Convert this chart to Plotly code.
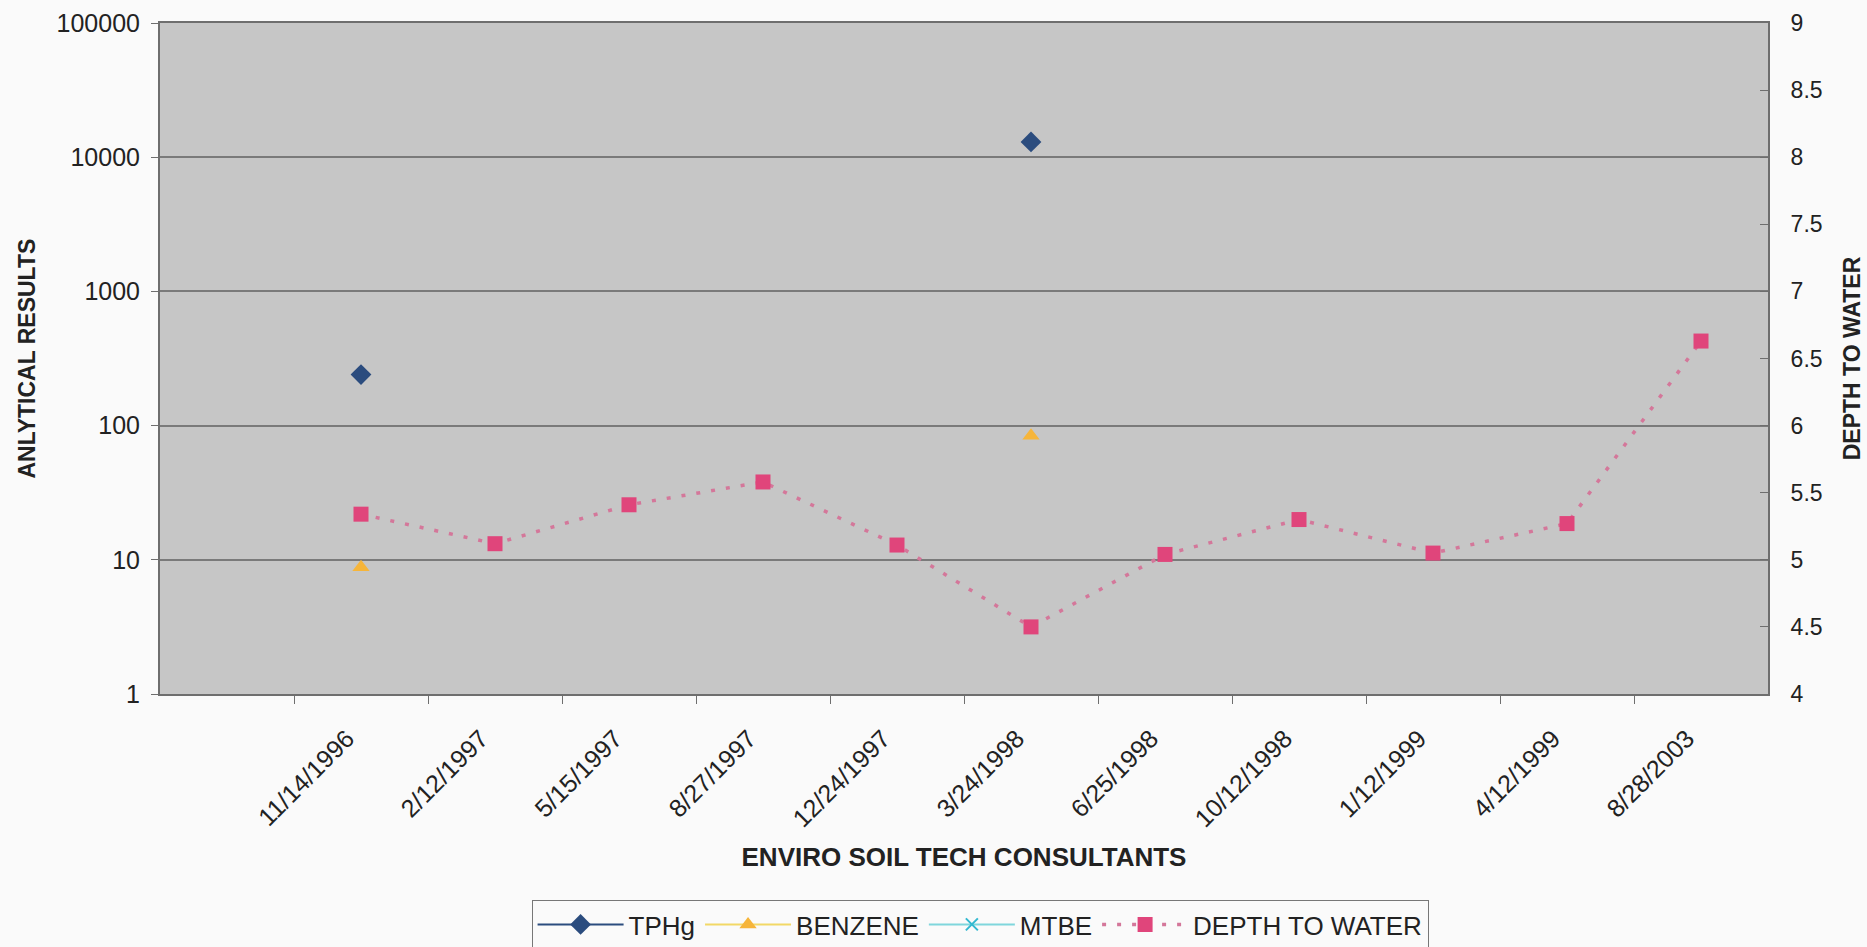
import plotly.graph_objects as go

# Sampling dates (one category each); the axis keeps an empty slot before the first date
dates = ["11/14/1996", "2/12/1997", "5/15/1997", "8/27/1997", "12/24/1997", "3/24/1998",
         "6/25/1998", "10/12/1998", "1/12/1999", "4/12/1999", "8/28/2003"]

# Analytical results (log scale, left axis); None = not detected / not sampled
tphg = [240, None, None, None, None, 13000, None, None, None, None, None]
benzene = [8.8, None, None, None, None, 84, None, None, None, None, None]
mtbe = [None, None, None, None, None, None, None, None, None, None, None]

# Depth to water (right axis)
depth_to_water = [5.34, 5.12, 5.41, 5.58, 5.11, 4.50, 5.04, 5.30, 5.05, 5.27, 6.63]

# Axis tick labels
left_tickvals = [1, 10, 100, 1000, 10000, 100000]
left_ticktext = ["1", "10", "100", "1000", "10000", "100000"]
right_tickvals = [4, 4.5, 5, 5.5, 6, 6.5, 7, 7.5, 8, 8.5, 9]
right_ticktext = ["4", "4.5", "5", "5.5", "6", "6.5", "7", "7.5", "8", "8.5", "9"]

slots = [""] + dates
xpos = [slots.index(d) for d in dates]
boundaries = [i + 0.5 for i in range(len(dates))]

FONT = "Liberation Sans, Arial, sans-serif"
NARROW = "Liberation Sans Narrow, Arial Narrow, Liberation Sans, Arial, sans-serif"
AXIS_GRAY = "#6e6e6e"

W, H = 1867, 947
ML, MR, MT, MB = 160, 99, 23, 253

fig = go.Figure()

fig.add_trace(go.Scatter(
    x=xpos, y=tphg, name="TPHg", mode="lines+markers", connectgaps=False,
    line=dict(color="#2b4c7e", width=2),
    marker=dict(symbol="diamond", size=16, color="#2b4c7e"),
))
fig.add_trace(go.Scatter(
    x=xpos, y=benzene, name="BENZENE", mode="lines+markers", connectgaps=False,
    line=dict(color="#f2d866", width=2),
    marker=dict(symbol="triangle-up", size=15, color="#f6b53a"),
))
fig.add_trace(go.Scatter(
    x=xpos, y=mtbe, name="MTBE", mode="lines+markers", connectgaps=False,
    line=dict(color="#7fd6dc", width=2),
    marker=dict(symbol="x-thin", size=12, color="#33b8d0", line=dict(width=2, color="#33b8d0")),
))
fig.add_trace(go.Scatter(
    x=xpos, y=depth_to_water, name="DEPTH TO WATER", mode="lines+markers", yaxis="y2",
    line=dict(color="#d4779a", width=3.5, dash="4px,11px"),
    marker=dict(symbol="square", size=15, color="#e0457b"),
))

# Left axis title, placed at a fixed distance left of the plot area
fig.add_annotation(
    text="<b>ANLYTICAL RESULTS</b>", textangle=-90,
    xref="paper", yref="paper", x=(26 - ML) / (W - ML - MR), y=0.5,
    xanchor="center", yanchor="middle", showarrow=False,
    font=dict(size=23, color="#222222"),
)

fig.update_layout(
    width=W, height=H, autosize=False,
    margin=dict(l=ML, r=MR, t=MT, b=MB),
    paper_bgcolor="#fafafa",
    plot_bgcolor="#c6c6c6",
    font=dict(family=FONT, size=22, color="#222222"),
    showlegend=True,
    legend=dict(
        orientation="h", x=0.51, xanchor="center",
        yref="container", y=1 - 900 / 947, yanchor="top",
        bordercolor="#777777", borderwidth=1, bgcolor="#fafafa",
        font=dict(family=NARROW, size=26, color="#222222"),
        itemwidth=86, traceorder="normal",
    ),
    xaxis=dict(
        range=[-0.5, len(slots) - 0.5],
        tickmode="array", tickvals=xpos, ticktext=dates, ticks="",
        tickangle=-45, tickfont=dict(size=25), ticklabelstandoff=18,
        ticklabelshift=-14,
        showgrid=False, zeroline=False, automargin=False,
        showline=True, linecolor=AXIS_GRAY, linewidth=2, mirror=True,
        minor=dict(tickmode="array", tickvals=boundaries, ticks="outside",
                   ticklen=8, tickcolor=AXIS_GRAY, tickwidth=1, showgrid=False),
        title=dict(text="<b>ENVIRO SOIL TECH CONSULTANTS</b>", font=dict(size=26), standoff=16),
    ),
    yaxis=dict(
        type="log", range=[0, 5],
        tickmode="array", tickvals=left_tickvals, ticktext=left_ticktext,
        ticks="outside", ticklen=7, tickcolor=AXIS_GRAY, ticklabelstandoff=6,
        tickfont=dict(size=25), automargin=False,
        showgrid=True, gridcolor="#7a7a7a", gridwidth=2,
        showline=True, linecolor=AXIS_GRAY, linewidth=2, mirror=True,
        zeroline=False,
    ),
    yaxis2=dict(
        overlaying="y", side="right", range=[4, 9],
        tickmode="array", tickvals=right_tickvals, ticktext=right_ticktext,
        ticks="inside", ticklen=8, tickcolor=AXIS_GRAY, ticklabelstandoff=16,
        tickfont=dict(size=23), automargin=False,
        showgrid=False, zeroline=False,
        showline=True, linecolor=AXIS_GRAY, linewidth=2,
        title=dict(text="<b>DEPTH TO WATER</b>", font=dict(size=23), standoff=22),
    ),
)

fig.write_html("out.html")
